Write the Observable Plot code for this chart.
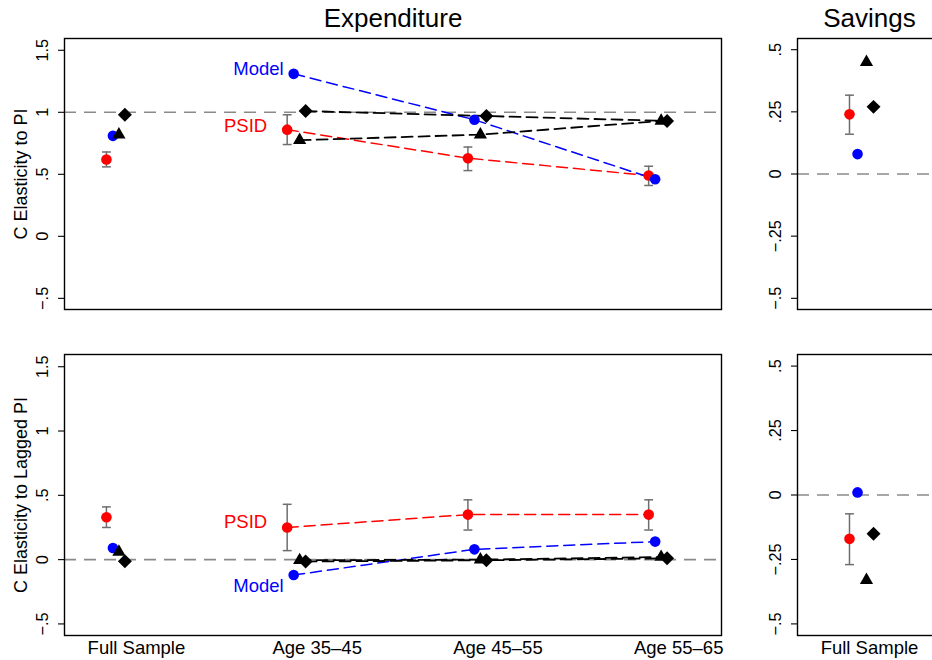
<!DOCTYPE html>
<html><head><meta charset="utf-8">
<script src="https://cdn.jsdelivr.net/npm/d3@7"></script>
<script src="https://cdn.jsdelivr.net/npm/@observablehq/plot@0.6"></script>
<style>
html,body{margin:0;padding:0;background:#fff;overflow:hidden;}
#wrap{position:relative;width:932px;height:660px;overflow:hidden;background:#fff;}
#wrap > svg{position:absolute;}
</style></head><body><div id="wrap"></div>
<script>
// ---------- data ----------
const categories = ["Full Sample", "Age 35–45", "Age 45–55", "Age 55–65"];
const savCategories = ["Full Sample"];

// Expenditure: C elasticity to PI
const expPSID   = [0.62, 0.86, 0.63, 0.49];
const expPSIDlo = [0.56, 0.74, 0.53, 0.41];
const expPSIDhi = [0.68, 0.98, 0.72, 0.565];
const expModel  = [0.81, 1.31, 0.94, 0.46];
const expTri    = [0.82, 0.775, 0.82, 0.93];
const expDia    = [0.98, 1.01, 0.97, 0.93];

// Expenditure: C elasticity to lagged PI
const lagPSID   = [0.33, 0.25, 0.35, 0.35];
const lagPSIDlo = [0.25, 0.07, 0.23, 0.23];
const lagPSIDhi = [0.41, 0.43, 0.465, 0.465];
const lagModel  = [0.09, -0.12, 0.08, 0.14];
const lagTri    = [0.06, -0.005, 0.0, 0.02];
const lagDia    = [-0.013, -0.015, -0.005, 0.01];

// Savings: PI
const savPSID   = [0.24];
const savPSIDlo = [0.16];
const savPSIDhi = [0.317];
const savModel  = [0.08];
const savTri    = [0.45];
const savDia    = [0.27];

// Savings: lagged PI
const slagPSID   = [-0.17];
const slagPSIDlo = [-0.27];
const slagPSIDhi = [-0.073];
const slagModel  = [0.01];
const slagTri    = [-0.33];
const slagDia    = [-0.15];

const leftTicks = [-0.5, 0, 0.5, 1, 1.5];
const rightTicks = [-0.5, -0.25, 0, 0.25, 0.5];

// ---------- styling ----------
const FONT = "'Liberation Sans', Arial, Helvetica, sans-serif";
const RED = "#ff0000", BLUE = "#0000ff", BLACK = "#000000", GRAY = "#6e6e6e", REFGRAY = "#8a8a8a";
const leftOffsets = {psid: -0.166, model: -0.130, tri: -0.097, dia: -0.064};
const rightOffsets = {psid: -0.139, model: -0.083, tri: -0.021, dia: 0.028};

const capSymbol = {draw(ctx, size) { const w = Math.sqrt(size); ctx.moveTo(-w / 2, 0); ctx.lineTo(w / 2, 0); }};

const fmt = d => d === 0 ? "0" : (d < 0 ? "−" : "") + String(Math.abs(d)).replace(/^0/, "");

function rows(vals, off, lo, hi) {
  return vals.map((v, i) => ({i, x: i + off, y: v, lo: lo ? lo[i] : null, hi: hi ? hi[i] : null}));
}

function panel(o) {
  const P = rows(o.psid, o.offs.psid, o.lo, o.hi);
  const M = rows(o.model, o.offs.model);
  const T = rows(o.tri, o.offs.tri);
  const D = rows(o.dia, o.offs.dia);
  const dash = "11,6";
  const marks = [
    Plot.ruleY([o.ref], {stroke: REFGRAY, strokeWidth: 1.6, strokeDasharray: "12,8"}),
    Plot.ruleX(P, {x: "x", y1: "lo", y2: "hi", stroke: GRAY, strokeWidth: 1.5}),
    Plot.dot(P, {x: "x", y: "lo", symbol: capSymbol, r: 5, stroke: GRAY, strokeWidth: 1.5, fill: "none"}),
    Plot.dot(P, {x: "x", y: "hi", symbol: capSymbol, r: 5, stroke: GRAY, strokeWidth: 1.5, fill: "none"})
  ];
  if (o.connect) {
    const f = r => r.i >= 1;
    marks.push(
      Plot.line(P.filter(f), {x: "x", y: "y", stroke: RED, strokeWidth: 1.5, strokeDasharray: dash}),
      Plot.line(M.filter(f), {x: "x", y: "y", stroke: BLUE, strokeWidth: 1.5, strokeDasharray: dash}),
      Plot.line(T.filter(f), {x: "x", y: "y", stroke: BLACK, strokeWidth: 1.8, strokeDasharray: dash}),
      Plot.line(D.filter(f), {x: "x", y: "y", stroke: BLACK, strokeWidth: 1.8, strokeDasharray: dash})
    );
  }
  marks.push(
    Plot.dot(P, {x: "x", y: "y", r: 5.3, fill: RED, symbol: "circle"}),
    Plot.dot(M, {x: "x", y: "y", r: 5.3, fill: BLUE, symbol: "circle"}),
    Plot.dot(T, {x: "x", y: "y", r: 4.9, fill: BLACK, symbol: "triangle"}),
    Plot.dot(D, {x: "x", y: "y", r: 6.3, fill: BLACK, symbol: "diamond2"}),
    Plot.frame({stroke: BLACK, strokeWidth: 1.4}),
    Plot.axisY(o.ticks, {tickSize: 6, tickFormat: () => "", label: null, strokeWidth: 1.1}),
    Plot.text(o.ticks, {y: d => d, frameAnchor: "left", dx: -17, rotate: -90, textAnchor: "middle", lineAnchor: "bottom", text: fmt, fontSize: 16.3})
  );
  if (o.yLabel) marks.push(Plot.text([o.yLabel], {frameAnchor: "left", dx: -43.5, rotate: -90, lineAnchor: "middle", textAnchor: "middle", fontSize: 18, text: d => d}));
  if (o.title) marks.push(Plot.text([o.title], {frameAnchor: "top", dy: -20, lineAnchor: "middle", textAnchor: "middle", fontSize: 26, text: d => d}));
  if (o.xLabels) marks.push(Plot.text(o.xLabels.map((c, i) => ({c, i})), {x: "i", frameAnchor: "bottom", lineAnchor: "top", dy: 5, fontSize: 18.5, text: "c"}));
  if (o.annot) {
    for (const a of o.annot) {
      const src = a.series === "model" ? M : P;
      marks.push(Plot.text([src[1]], {x: "x", y: "y", text: () => a.text, textAnchor: "end", lineAnchor: "middle", dx: a.dx, dy: a.dy, fill: a.series === "model" ? BLUE : RED, fontSize: 18.5}));
    }
  }
  const svg = Plot.plot({
    width: o.width, height: o.height,
    marginLeft: o.m[0], marginRight: o.m[1], marginTop: o.m[2], marginBottom: o.m[3],
    x: {type: "linear", domain: o.xDomain, axis: null},
    y: {type: "linear", domain: o.yDomain, axis: null},
    style: {fontFamily: FONT, color: "black", background: "transparent", maxWidth: "none", overflow: "hidden"},
    marks
  });
  svg.style.left = o.left + "px";
  svg.style.top = o.top + "px";
  document.getElementById("wrap").appendChild(svg);
}

const leftX = [-0.398, 3.237];
const leftY = [-0.59, 1.595];
const rightX = [-0.5, 0.5];
const rightY = [-0.545, 0.545];

panel({psid: expPSID, lo: expPSIDlo, hi: expPSIDhi, model: expModel, tri: expTri, dia: expDia,
  offs: leftOffsets, ref: 1, ticks: leftTicks, xDomain: leftX, yDomain: leftY, connect: true,
  width: 730, height: 320, m: [64, 9, 38, 11], left: 0, top: 0,
  yLabel: "C Elasticity to PI", title: "Expenditure",
  annot: [{series: "model", text: "Model", dx: -10, dy: -5}, {series: "psid", text: "PSID", dx: -20, dy: -4}]});

panel({psid: lagPSID, lo: lagPSIDlo, hi: lagPSIDhi, model: lagModel, tri: lagTri, dia: lagDia,
  offs: leftOffsets, ref: 0, ticks: leftTicks, xDomain: leftX, yDomain: leftY, connect: true,
  width: 730, height: 330, m: [64, 9, 24, 25], left: 0, top: 330,
  yLabel: "C Elasticity to Lagged PI", xLabels: categories,
  annot: [{series: "psid", text: "PSID", dx: -20, dy: -5.5}, {series: "model", text: "Model", dx: -10, dy: 11}]});

panel({psid: savPSID, lo: savPSIDlo, hi: savPSIDhi, model: savModel, tri: savTri, dia: savDia,
  offs: rightOffsets, ref: 0, ticks: rightTicks, xDomain: rightX, yDomain: rightY, connect: false,
  width: 230, height: 320, m: [67, 19, 38, 11], left: 730, top: 0,
  title: "Savings"});

panel({psid: slagPSID, lo: slagPSIDlo, hi: slagPSIDhi, model: slagModel, tri: slagTri, dia: slagDia,
  offs: rightOffsets, ref: 0, ticks: rightTicks, xDomain: rightX, yDomain: rightY, connect: false,
  width: 230, height: 330, m: [67, 19, 24, 25], left: 730, top: 330,
  xLabels: savCategories});
</script></body></html>
